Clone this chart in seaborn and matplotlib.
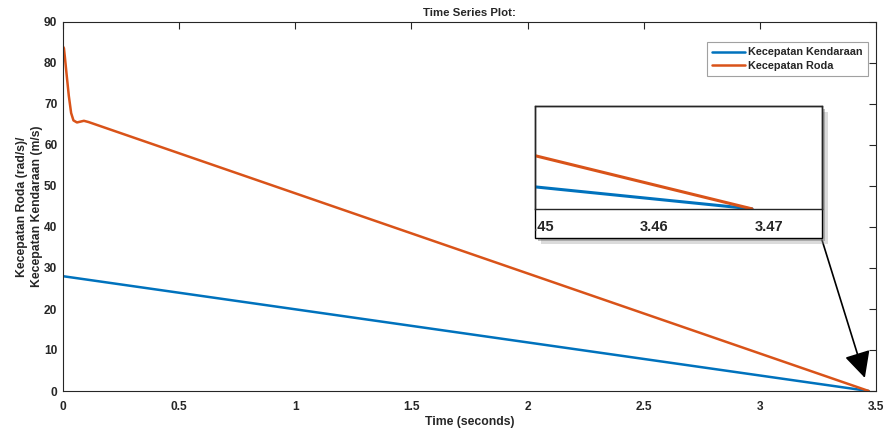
import numpy as np
import pandas as pd
import matplotlib
matplotlib.use("Agg")
import matplotlib.pyplot as plt
import matplotlib.patheffects as pe
from matplotlib.patches import Rectangle
import seaborn as sns

# ---- data ----
t_roda = [0.0, 0.004, 0.008, 0.015, 0.025, 0.035, 0.045, 0.06, 0.075, 0.09, 0.11, 3.4685]
v_roda = [84.0, 83.6, 81.5, 77.5, 72.0, 67.8, 66.0, 65.5, 65.7, 65.9, 65.6, 0.0]
t_kend = [0.0, 3.4685]
v_kend = [28.0, 0.0]
series_names = ["Kecepatan Kendaraan", "Kecepatan Roda"]
x_ticks = [0, 0.5, 1, 1.5, 2, 2.5, 3, 3.5]
x_tick_labels = ["0", "0.5", "1", "1.5", "2", "2.5", "3", "3.5"]
y_ticks = [0, 10, 20, 30, 40, 50, 60, 70, 80, 90]
inset_ticks = [3.45, 3.46, 3.47]
inset_tick_labels = ["3.45", "3.46", "3.47"]

df = pd.concat([
    pd.DataFrame({"t": t_kend, "v": v_kend, "s": series_names[0]}),
    pd.DataFrame({"t": t_roda, "v": v_roda, "s": series_names[1]}),
])

sns.set_style("white")
plt.rcParams["font.family"] = ["Liberation Sans", "DejaVu Sans"]
plt.rcParams["font.weight"] = "bold"
plt.rcParams["axes.labelweight"] = "bold"
plt.rcParams["axes.titleweight"] = "bold"

palette = {series_names[0]: "#0072BD", series_names[1]: "#D95319"}
dark = "#262626"

fig = plt.figure(figsize=(8.92, 4.28), dpi=100)
ax = fig.add_axes([63/892, 1-391/428, 813/892, 369/428])
sns.lineplot(data=df, x="t", y="v", hue="s", palette=palette, ax=ax,
             linewidth=1.8, sort=False, estimator=None)
ax.set_xlim(0, 3.5)
ax.set_ylim(0, 90)
ax.set_xticks(x_ticks)
ax.set_xticklabels(x_tick_labels)
ax.set_yticks(y_ticks)
ax.tick_params(direction="in", top=True, right=True, length=5, width=0.8,
               colors=dark, labelsize=8.6)
ax.tick_params(axis="x", pad=7)
ax.tick_params(axis="y", pad=4)
for lbl in ax.get_xticklabels() + ax.get_yticklabels():
    lbl.set_fontweight("bold")
for sp in ax.spines.values():
    sp.set_color(dark)
    sp.set_linewidth(0.8)
ax.set_xlabel("Time (seconds)", fontsize=8.8, color=dark, labelpad=2)
ax.set_ylabel("Kecepatan Roda (rad/s)/\nKecepatan Kendaraan (m/s)", fontsize=8.8,
              color=dark, labelpad=1, linespacing=1.25)
ax.set_title("Time Series Plot:", fontsize=8.2, color=dark, pad=4)
leg = ax.legend(loc="upper right", bbox_to_anchor=(0.990, 0.946), fontsize=7.8,
                frameon=True, fancybox=False, handlelength=3.0, borderpad=0.5,
                labelspacing=0.3, handletextpad=0.3, borderaxespad=0)
leg.get_frame().set_edgecolor("#8a8a8a")
leg.get_frame().set_linewidth(0.8)
for txt in leg.get_texts():
    txt.set_fontweight("bold")
    txt.set_color(dark)

# ---- inset ----
rect = Rectangle((535/892, 1-238/428), 287/892, 132/428, transform=fig.transFigure,
                 facecolor="white", edgecolor="black", linewidth=1.0, zorder=5,
                 path_effects=[pe.SimplePatchShadow(offset=(4, -4), shadow_rgbFace="#9a9a9a", alpha=0.35),
                               pe.SimplePatchShadow(offset=(2.5, -2.5), shadow_rgbFace="#707070", alpha=0.45),
                               pe.Normal()])
fig.add_artist(rect)
axi = fig.add_axes([535/892, 1-209/428, 287/892, 103/428], zorder=6)
axi.patch.set_alpha(0)
sns.lineplot(data=df, x="t", y="v", hue="s", palette=palette, ax=axi,
             linewidth=2.2, sort=False, estimator=None, legend=False)
axi.set_xlim(3.4496, 3.4746)
axi.set_ylim(-0.001, 0.714)
axi.set_xticks(inset_ticks)
axi.set_xticklabels(inset_tick_labels)
axi.set_yticks([])
axi.set_xlabel("")
axi.set_ylabel("")
axi.tick_params(direction="in", length=5, width=0.8, colors=dark, labelsize=10.5, pad=8)
for sp in axi.spines.values():
    sp.set_color(dark)
    sp.set_linewidth(1.0)
for lbl in axi.get_xticklabels():
    lbl.set_fontweight("bold")
    lbl.set_clip_on(True)
    lbl.set_clip_path(rect)

# ---- arrow ----
ax.annotate("", xy=(3.452, 3.2), xycoords="data",
            xytext=(822/892, 1-240/428), textcoords="figure fraction",
            arrowprops=dict(arrowstyle="-|>,head_length=0.9,head_width=0.45",
                            color="black", lw=1.2, mutation_scale=18,
                            shrinkA=0, shrinkB=0))

fig.savefig("out.png", dpi=100)
